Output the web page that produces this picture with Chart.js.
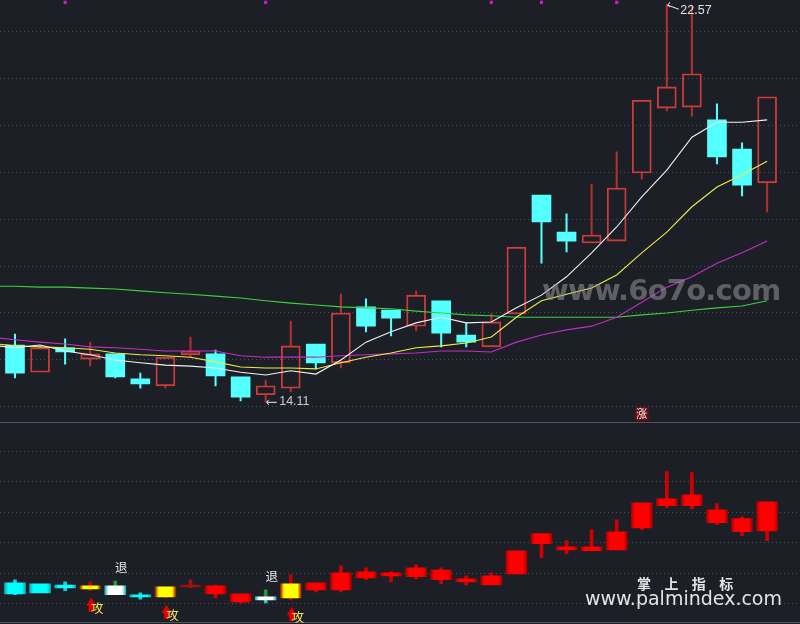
<!DOCTYPE html>
<html>
<head>
<meta charset="utf-8">
<style>
  html, body { margin: 0; padding: 0; background: #1c1f26; overflow: hidden; }
  #wrap { position: relative; width: 800px; height: 624px; }
  .mark { position: absolute; white-space: nowrap; }
  #wm1 { left: 542px; top: 272px; font: bold 29px "DejaVu Sans"; line-height: 36px; color: rgba(150,150,150,.55); letter-spacing: -0.8px; }
  #wm2 { left: 637px; top: 574px; font: bold 14px "Noto Sans CJK SC"; line-height: 18px; letter-spacing: 5.1px; color: #e4e4e4; }
  #wm3 { left: 585px; top: 587px; font: 19px "DejaVu Sans"; line-height: 23px; color: #e4e4e4; }
</style>
<script src="https://cdn.jsdelivr.net/npm/chart.js@4/dist/chart.umd.min.js"></script>
</head>
<body>
<div id="wrap">
  <canvas id="kline" width="800" height="624"></canvas>
  <div class="mark" id="wm1">www.6o7o.com</div>
  <div class="mark" id="wm2">掌 上 指 标</div>
  <div class="mark" id="wm3">www.palmindex.com</div>
</div>
<script>
// price candles
const opens  = [15.32,14.74,15.26,15.02,15.13,14.60,14.45,15.11,15.13,14.64,14.26,14.40,15.34,14.94,16.13,16.06,15.72,16.26,15.53,15.28,15.98,18.51,17.72,17.49,17.53,18.98,20.36,20.38,20.11,19.49,18.77];
const closes = [14.72,15.26,15.17,15.13,14.64,14.49,15.06,15.19,14.66,14.21,14.45,15.30,14.94,16.00,15.72,15.89,16.38,15.57,15.38,15.81,17.40,17.94,17.53,17.66,18.66,20.53,20.81,21.09,19.32,18.72,20.60];
const highs  = [15.55,15.30,15.45,15.38,15.13,14.72,15.06,15.49,15.21,14.64,14.57,15.83,15.34,16.40,16.30,16.06,16.47,16.26,15.79,15.98,17.40,18.51,18.11,18.74,19.43,20.53,22.57,22.55,20.45,19.62,20.60];
const lows   = [14.62,14.74,14.91,14.87,14.62,14.40,14.40,15.06,14.45,14.13,14.11,14.32,14.81,14.83,15.60,15.51,15.62,15.28,15.28,15.28,15.98,17.06,17.30,17.49,17.53,18.85,20.30,20.19,19.17,18.49,18.15];

// moving averages, first point is the candle before the left edge
const ma5  = [15.32,15.26,15.32,15.19,15.11,15.00,14.94,14.89,14.87,14.83,14.74,14.68,14.77,14.70,15.00,15.38,15.60,15.79,15.91,15.79,15.81,16.11,16.38,16.77,17.28,17.83,18.47,19.04,19.74,20.06,20.06,20.11];
const ma10 = [15.36,15.30,15.28,15.26,15.23,15.15,15.11,15.09,15.06,14.96,14.85,14.83,14.83,14.81,14.94,15.06,15.15,15.26,15.30,15.36,15.49,15.91,16.26,16.40,16.53,16.81,17.28,17.72,18.26,18.68,18.94,19.23];
const ma20 = [15.49,15.43,15.38,15.34,15.28,15.26,15.23,15.19,15.19,15.19,15.09,15.06,15.06,15.06,15.09,15.11,15.13,15.15,15.19,15.19,15.17,15.38,15.53,15.64,15.72,15.91,16.23,16.55,16.77,17.06,17.28,17.53];
const ma60 = [16.57,16.57,16.55,16.55,16.53,16.51,16.47,16.43,16.40,16.36,16.32,16.26,16.21,16.17,16.13,16.11,16.09,16.04,16.00,15.96,15.94,15.91,15.91,15.91,15.91,15.91,15.96,16.00,16.06,16.11,16.15,16.26];

// candles with a top marker
const topMarks = [2, 10, 19, 21, 24];

// lower indicator candles
const subOpen  = [6.9,3.6,6.2,4.9,5.9,3.0,2.3,5.6,5.9,3.3,2.3,2.0,4.6,4.6,8.5,9.2,8.9,7.9,7.2,6.2,9.8,23.0,18.7,17.4,17.7,24.9,32.1,32.1,30.8,27.9,23.9];
const subClose = [3.3,6.6,5.2,5.9,3.0,2.3,5.6,6.2,3.3,0.7,1.3,6.6,6.9,10.2,10.5,10.2,11.8,11.1,8.2,9.2,17.4,19.7,17.7,18.7,23.6,33.1,34.4,35.7,26.6,23.6,33.4];
const subHigh  = [7.9,6.6,7.2,7.2,7.5,3.6,5.6,7.9,6.2,3.3,4.6,9.5,6.9,12.5,11.8,10.5,12.8,11.8,9.2,10.2,17.4,23.0,20.7,24.3,27.5,33.1,43.3,43.0,32.8,28.5,33.4];
const subLow   = [3.0,3.6,4.3,4.3,3.0,1.6,2.0,5.2,2.0,0.3,0.3,1.3,3.9,3.9,7.9,7.2,8.2,6.6,6.2,6.2,9.8,15.1,16.4,17.4,17.7,24.3,31.5,31.1,25.9,22.3,20.7];
const subKind  = ['c','c','c','y','w','c','y','d','r','r','w','y','r','r','r','r','r','r','r','r','r','r','r','r','r','r','r','r','r','r','r'];

// signal texts
const attackAt = [3, 6, 11];
const retreatAt = [4, 10];
const lowIndex = 10, highIndex = 26, riseIndex = 25;
const lowLabel = 14.11, highLabel = 22.57;

const UP = '#cc3c3c', UP_WICK = '#b03030', DOWN = '#54ffff', GRID = '#4b4e56';
const BODY_W = 19, SUB_W = 21;

const idx = opens.map((v, i) => i);
const pts = arr => arr.map((v, i) => ({ x: i - 1, y: v }));
const upper = (o, c, h) => idx.filter(i => h[i] > Math.max(o[i], c[i])).map(i => ({ x: i, y: [Math.max(o[i], c[i]), h[i]] }));
const lower = (o, c, l) => idx.filter(i => l[i] < Math.min(o[i], c[i])).map(i => ({ x: i, y: [l[i], Math.min(o[i], c[i])] }));
const wickColor = (list, fn) => list.map(p => fn(p.x));

const priceUp = i => closes[i] >= opens[i];
const subStops = {
  c: ['#12a8b4', '#00ffff'],
  r: ['#a80000', '#ff0000'],
  d: ['#7a0808', '#a81010'],
  y: ['#9a1208', '#ffff00'],
  w: ['#12b0b8', '#ffffff']
};
function subFill(ctx) {
  const s = subStops[subKind[ctx.dataIndex]] || subStops.r;
  const px = ctx.chart.scales.x.getPixelForValue(ctx.dataIndex);
  if (!Number.isFinite(px)) return s[1]; // scale not laid out yet
  const g = ctx.chart.ctx.createLinearGradient(px - SUB_W / 2, 0, px + SUB_W / 2, 0);
  g.addColorStop(0, s[0]);
  g.addColorStop(0.18, s[1]);
  g.addColorStop(0.82, s[1]);
  g.addColorStop(1, s[0]);
  return g;
}
const subWickUp = i => ({ c: '#22c8d8', r: '#d00000', d: '#a01010', y: '#c00000', w: '#1f9a3a' })[subKind[i]];
const subWickDown = i => ({ c: '#22c8d8', r: '#d00000', d: '#a01010', y: '#c00000', w: '#22c8d8' })[subKind[i]];

const lineSet = (data, color) => ({ type: 'line', data: pts(data), borderColor: color, borderWidth: 1.1, pointRadius: 0, tension: 0, order: 1, yAxisID: 'y' });

const upWicks = upper(opens, closes, highs), downWicks = lower(opens, closes, lows);
const subUpWicks = upper(subOpen, subClose, subHigh), subDownWicks = lower(subOpen, subClose, subLow);

// texts and little arrows drawn over the candles
const overlay = {
  id: 'overlay',
  afterDatasetsDraw(chart) {
    const { ctx, scales: { x, y, y2 } } = chart;
    ctx.save();
    ctx.strokeStyle = '#4f525a';
    ctx.lineWidth = 1;
    [y2.top, y2.bottom - 1].forEach(p => {
      ctx.beginPath();
      ctx.moveTo(0, Math.round(p) - 0.5);
      ctx.lineTo(800, Math.round(p) - 0.5);
      ctx.stroke();
    });

    // low and high price tags
    ctx.textBaseline = 'middle';
    ctx.font = '12.5px "Liberation Sans"';
    const lx = x.getPixelForValue(lowIndex), ly = y.getPixelForValue(lowLabel);
    const hx = x.getPixelForValue(highIndex), hy = y.getPixelForValue(highLabel);
    ctx.strokeStyle = '#f0f0f0';
    ctx.beginPath();
    ctx.moveTo(lx + 11, ly + 0.5); ctx.lineTo(lx + 1, ly + 0.5);
    ctx.moveTo(lx + 3, ly - 2); ctx.lineTo(lx + 1, ly + 0.5); ctx.lineTo(lx + 3, ly + 3);
    ctx.moveTo(hx + 12, hy + 5); ctx.lineTo(hx + 1, hy + 1);
    ctx.moveTo(hx + 3, hy - 2); ctx.lineTo(hx + 1, hy + 1); ctx.lineTo(hx + 3, hy + 3);
    ctx.stroke();
    ctx.fillStyle = '#c9cdd2';
    ctx.fillText(String(lowLabel), lx + 13.5, ly);
    ctx.fillStyle = '#dfe3e6';
    ctx.fillText(String(highLabel), hx + 13.5, hy + 6);

    // rise badge
    const bx = x.getPixelForValue(riseIndex), by = y.getPixelForValue(13.85);
    ctx.fillStyle = '#6b0f14';
    ctx.beginPath();
    ctx.roundRect(bx - 7, by - 7, 14, 14, 3);
    ctx.fill();
    ctx.fillStyle = '#f4f4f4';
    ctx.font = '11px "Noto Sans CJK SC"';
    ctx.textAlign = 'center';
    ctx.fillText('涨', bx, by);

    // signals on the lower panel
    ctx.font = '12.5px "Noto Sans CJK SC"';
    retreatAt.forEach(i => {
      ctx.fillStyle = '#e6e6e6';
      ctx.fillText('退', x.getPixelForValue(i) + 6, y2.getPixelForValue(subHigh[i]) - 14);
    });
    attackAt.forEach(i => {
      const ax = x.getPixelForValue(i) + 1, ay = y2.getPixelForValue(subLow[i]) + 7;
      ctx.fillStyle = '#e00000';
      ctx.beginPath();
      ctx.moveTo(ax, ay); ctx.lineTo(ax + 5, ay + 8); ctx.lineTo(ax + 2.5, ay + 8);
      ctx.lineTo(ax + 2.5, ay + 14); ctx.lineTo(ax - 2.5, ay + 14); ctx.lineTo(ax - 2.5, ay + 8);
      ctx.lineTo(ax - 5, ay + 8);
      ctx.closePath();
      ctx.fill();
      ctx.fillStyle = '#f2e25a';
      ctx.fillText('攻', ax + 6, ay + 10);
    });
    ctx.restore();
  }
};

new Chart(document.getElementById('kline'), {
  data: {
    datasets: [
      lineSet(ma5, '#f2f2f2'),
      lineSet(ma10, '#ecec4a'),
      lineSet(ma20, '#c22ec2'),
      lineSet(ma60, '#3ed03e'),
      { type: 'bar', data: upWicks, backgroundColor: wickColor(upWicks, i => priceUp(i) ? UP_WICK : DOWN), barThickness: 1.4, grouped: false, order: 4, yAxisID: 'y' },
      { type: 'bar', data: downWicks, backgroundColor: wickColor(downWicks, i => priceUp(i) ? UP_WICK : DOWN), barThickness: 1.4, grouped: false, order: 4, yAxisID: 'y' },
      {
        type: 'bar',
        data: idx.map(i => ({ x: i, y: [opens[i], closes[i]] })),
        backgroundColor: idx.map(i => priceUp(i) ? 'rgba(0,0,0,0)' : DOWN),
        borderColor: idx.map(i => priceUp(i) ? UP : DOWN),
        borderWidth: idx.map(i => priceUp(i) ? 1.2 : 0),
        borderSkipped: false,
        barThickness: BODY_W,
        grouped: false,
        order: 3,
        yAxisID: 'y'
      },
      { type: 'scatter', data: topMarks.map(i => ({ x: i, y: 22.61 })), backgroundColor: '#c81ec8', pointStyle: 'rect', pointRadius: 2.2, borderWidth: 0, order: 2, yAxisID: 'y' },
      { type: 'bar', data: subUpWicks, backgroundColor: wickColor(subUpWicks, subWickUp), barThickness: 3, grouped: false, order: 4, yAxisID: 'y2' },
      { type: 'bar', data: subDownWicks, backgroundColor: wickColor(subDownWicks, subWickDown), barThickness: 3, grouped: false, order: 4, yAxisID: 'y2' },
      {
        type: 'bar',
        data: idx.map(i => ({ x: i, y: [subOpen[i], subClose[i]] })),
        backgroundColor: subFill,
        barThickness: SUB_W,
        grouped: false,
        order: 3,
        yAxisID: 'y2'
      }
    ]
  },
  options: {
    responsive: false,
    animation: false,
    layout: { padding: 0, autoPadding: false },
    plugins: { legend: { display: false }, tooltip: { enabled: false } },
    scales: {
      x: { type: 'linear', min: -0.598, max: 31.312, display: false, offset: false },
      y: {
        type: 'linear', min: 13.67, max: 22.66, stack: 'panels', stackWeight: 422.5, weight: 1, offset: false,
        ticks: { display: false, stepSize: 1, includeBounds: false },
        grid: { color: GRID, drawTicks: false },
        border: { display: false, dash: [1, 3] }
      },
      y2: {
        type: 'linear', min: -6.56, max: 59.34, stack: 'panels', stackWeight: 201.5, weight: 0, offset: false,
        ticks: { display: false, stepSize: 10, includeBounds: false },
        grid: { color: GRID, drawTicks: false },
        border: { display: false, dash: [1, 3] }
      }
    }
  },
  plugins: [overlay]
});
</script>
</body>
</html>
